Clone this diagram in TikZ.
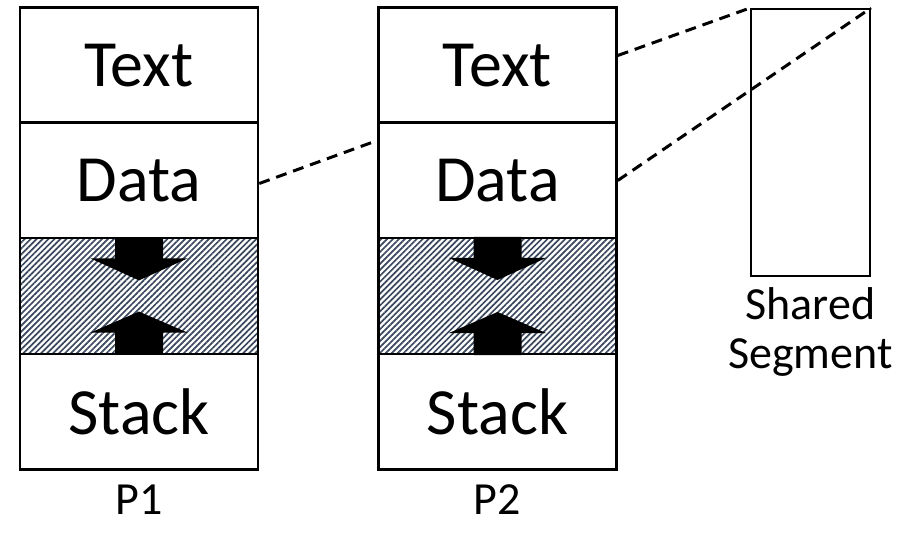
\documentclass[tikz,border=0pt]{standalone}
\usepackage{fontspec}
\setmainfont{Carlito}
\usetikzlibrary{patterns.meta}
\definecolor{slate}{RGB}{58,72,94}
\tikzset{
  seg/.style={draw, line width=2.5pt, minimum width=238pt, minimum height=115.5pt, inner sep=0pt, font=\fontsize{66}{66}\selectfont},
  hatch/.style={pattern={Lines[angle=45,distance=4.2pt,line width=1.7pt]}, pattern color=slate},
  link/.style={line width=3pt, dash pattern=on 11pt off 7pt},
  lbl/.style={font=\fontsize{46}{49}\selectfont, align=center}
}
\begin{document}
\begin{tikzpicture}[x=1pt, y=-1pt]
  \useasboundingbox (0,0) rectangle (907,537);
  \foreach \p/\x/\n in {p1/139/P1, p2/497.5/P2}{
    \node [seg] (\p-text) at (\x,65.5) {Text};
    \node [seg] (\p-data) at (\x,180.5) {Data};
    \node [seg, hatch] (\p-heap) at (\x,296) {};
    \node [seg] (\p-stack) at (\x,411.5) {Stack};
    % growing areas
    \fill [shift={(\p-heap.north)}] (-24,0) -- (-24,21) -- (-48.5,21) -- (0,43) -- (48.5,21) -- (24,21) -- (24,0) -- cycle;
    \fill [shift={(\p-heap.south)}] (-24,0) -- (-24,-22) -- (-48.5,-22) -- (0,-43) -- (48.5,-22) -- (24,-22) -- (24,0) -- cycle;
    \node [lbl] (\p-name) at (\x,500) {\n};
  }
  \node [draw, line width=2pt, minimum width=119pt, minimum height=267pt, inner sep=0pt] (shared) at (810.5,142.5) {};
  \node [lbl] (shared-name) at (810.5,332) {Shared\\Segment};
  \draw [link] ([yshift=-3pt]p1-data.east) -- ([yshift=40pt]p2-data.west);
  \draw [link] ([yshift=10pt]p2-text.east) -- (shared.north west);
  \draw [link] (p2-data.east) -- (shared.north east);
\end{tikzpicture}
\end{document}
